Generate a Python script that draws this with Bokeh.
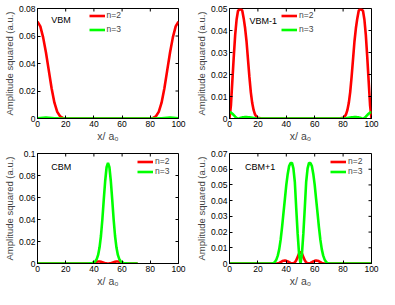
import math
from bokeh.plotting import figure
from bokeh.models import Range1d, FixedTicker, Legend, LegendItem, Label
from bokeh.layouts import gridplot
from bokeh.embed import file_html
from bokeh.resources import INLINE

# ---------------- data ----------------
x_ticks = [0, 20, 40, 60, 80, 100]
x_tick_labels = ["0", "20", "40", "60", "80", "100"]
series_names = ["n=2", "n=3"]

# VBM
vbm_x = [0, 2, 4, 6, 8, 10, 12, 14, 16, 18, 20, 30, 40, 50, 60, 70, 80,
         82, 84, 86, 88, 90, 92, 94, 96, 98, 100]
vbm_n2 = [0.0705, 0.067, 0.059, 0.048, 0.035, 0.022, 0.0115, 0.0048, 0.0016, 0.0004, 0.0001,
          0, 0, 0, 0, 0, 0.0001,
          0.0004, 0.0016, 0.0048, 0.0115, 0.022, 0.035, 0.048, 0.059, 0.067, 0.0705]
vbm_n3 = [0.0002, 0.0004, 0.0006, 0.0007, 0.0006, 0.0004, 0.0002, 0.0001, 0, 0, 0,
          0, 0, 0, 0, 0, 0,
          0, 0, 0.0001, 0.0002, 0.0004, 0.0006, 0.0007, 0.0006, 0.0004, 0.0002]
vbm_y_ticks = [0, 0.02, 0.04, 0.06, 0.08]
vbm_y_labels = ["0", "0.02", "0.04", "0.06", "0.08"]

# VBM-1
vbm1_x = [0, 1, 2, 3, 4, 5, 6, 7, 8, 9, 10, 11, 12, 13, 14, 15, 16, 17, 18, 19, 20,
          22, 24, 30, 40, 50, 60, 70, 76, 78,
          80, 81, 82, 83, 84, 85, 86, 87, 88, 89, 90, 91, 92, 93, 94, 95, 96, 97, 98, 99, 100]
vbm1_n2 = [0, 0.006, 0.017, 0.028, 0.038, 0.045, 0.049, 0.0495, 0.0497, 0.049, 0.0455,
           0.041, 0.035, 0.027, 0.019, 0.012, 0.007, 0.0038, 0.0018, 0.0008, 0.0003,
           0.0001, 0, 0, 0, 0, 0, 0, 0, 0.0001,
           0.0003, 0.0008, 0.0018, 0.0038, 0.007, 0.012, 0.019, 0.027, 0.035, 0.041,
           0.0455, 0.049, 0.0497, 0.0495, 0.049, 0.045, 0.038, 0.028, 0.017, 0.006, 0]
vbm1_n3 = [0.0028, 0.0027, 0.0022, 0.0015, 0.0008, 0.0002, 0, 0.0001, 0.0003, 0.0005, 0.0006,
           0.0007, 0.0007, 0.0006, 0.0005, 0.0004, 0.0003, 0.0002, 0.0001, 0, 0,
           0, 0, 0, 0, 0, 0, 0, 0, 0,
           0, 0, 0.0001, 0.0002, 0.0003, 0.0004, 0.0005, 0.0006, 0.0007, 0.0007,
           0.0006, 0.0005, 0.0003, 0.0001, 0, 0.0002, 0.0008, 0.0015, 0.0022, 0.0027, 0.0028]
vbm1_y_ticks = [0, 0.01, 0.02, 0.03, 0.04, 0.05]
vbm1_y_labels = ["0", "0.01", "0.02", "0.03", "0.04", "0.05"]

# CBM and CBM+1 share one sampling of x
cb_x = [0, 10, 20, 28, 29, 30, 31, 32, 33, 34, 35, 36, 37, 38, 39, 40, 41, 42, 43, 44, 45,
        46, 47, 48, 49, 50, 51, 52, 53, 54, 55, 56, 57, 58, 59, 60, 61, 62, 63, 64, 65,
        66, 67, 68, 69, 70, 71, 72, 80, 90, 100]

# CBM
cbm_n2 = [0, 0, 0, 0, 0, 0, 0, 0, 0, 0, 0, 0, 0, 0.0001, 0.0004, 0.0008, 0.0012, 0.0016, 0.0018, 0.0018, 0.0015,
          0.0011, 0.0007, 0.0003, 0.0001, 0, 0.0001, 0.0003, 0.0007, 0.0011, 0.0015, 0.0018, 0.0018, 0.0016, 0.0012, 0.0008, 0.0004,
          0.0001, 0, 0, 0, 0, 0, 0, 0, 0, 0]
cbm_n3 = [0, 0, 0, 0, 0, 0, 0, 0, 0, 0, 0, 0, 0.0001, 0.0002, 0.0005, 0.001, 0.002, 0.004, 0.0078, 0.0145, 0.025,
          0.040, 0.058, 0.075, 0.0875, 0.0915, 0.0875, 0.075, 0.058, 0.040, 0.025, 0.0145, 0.0078, 0.004, 0.002, 0.001, 0.0005,
          0.0002, 0.0001, 0, 0, 0, 0, 0, 0, 0, 0]
cbm_y_ticks = [0, 0.02, 0.04, 0.06, 0.08, 0.1]
cbm_y_labels = ["0", "0.02", "0.04", "0.06", "0.08", "0.1"]

# CBM+1
cbm1_n2 = [0, 0, 0, 0, 0, 0, 0, 0, 0, 0.0001, 0.0004, 0.0009, 0.0014, 0.0018, 0.0019, 0.0017, 0.0013, 0.0008, 0.0004, 0.0001, 0.0001,
           0.0007, 0.002, 0.0042, 0.0064, 0.0074, 0.0064, 0.0042, 0.002, 0.0007, 0.0001, 0.0001, 0.0004, 0.0008, 0.0013, 0.0017, 0.0019,
           0.0018, 0.0014, 0.0009, 0.0004, 0.0001, 0, 0, 0, 0, 0, 0, 0, 0, 0]
cbm1_n3 = [0, 0, 0, 0, 0, 0, 0.0003, 0.001, 0.0025, 0.005, 0.009, 0.015, 0.023, 0.032, 0.041, 0.050, 0.057, 0.062, 0.064, 0.064, 0.0605,
           0.052, 0.035, 0.019, 0.006, 0, 0.006, 0.019, 0.035, 0.052, 0.0605, 0.064, 0.064, 0.062, 0.057, 0.050, 0.041,
           0.032, 0.023, 0.015, 0.009, 0.005, 0.0025, 0.001, 0.0003, 0, 0, 0, 0, 0, 0]
cbm1_y_ticks = [0, 0.01, 0.02, 0.03, 0.04, 0.05, 0.06, 0.07]
cbm1_y_labels = ["0", "0.01", "0.02", "0.03", "0.04", "0.05", "0.06", "0.07"]

# ---------------- styling ----------------
FONT = "Liberation Sans"
RED = "#ff0000"
GREEN = "#00ff00"


def style_axis(ax, ticks, labels):
    ax.ticker = FixedTicker(ticks=ticks)
    ax.major_label_overrides = {t: l for t, l in zip(ticks, labels)}
    ax.major_tick_in = 3
    ax.major_tick_out = 0
    ax.minor_tick_line_color = None
    ax.axis_line_color = "black"
    ax.major_tick_line_color = "black"
    ax.major_label_text_font = FONT
    ax.major_label_text_color = "black"
    ax.major_label_text_font_size = "8.5px"
    ax.major_label_standoff = 2


def make_panel(x, n2, n3, yticks, ylabels, ymax, title, tx, ty, legend_loc,
               legend_margin, legend_spacing, width, height, borders):
    p = figure(width=width, height=height, output_backend="svg", toolbar_location=None,
               x_range=Range1d(0, 100), y_range=Range1d(0, ymax),
               min_border_left=borders[0], min_border_right=borders[1],
               min_border_top=borders[2], min_border_bottom=borders[3])
    p.grid.visible = False
    p.outline_line_color = "black"
    p.background_fill_color = "white"
    p.border_fill_color = "white"

    r2 = p.line(x, n2, line_color=RED, line_width=2.6)
    r3 = p.line(x, n3, line_color=GREEN, line_width=2.6)

    # inward ticks on the top and right sides of the box
    p.ray(x=x_ticks, y=[ymax] * len(x_ticks), length=3, length_units="screen",
          angle=-math.pi / 2, line_color="black", line_width=1)
    p.ray(x=[100] * len(yticks), y=yticks, length=3, length_units="screen",
          angle=math.pi, line_color="black", line_width=1)

    style_axis(p.xaxis[0], x_ticks, x_tick_labels)
    style_axis(p.yaxis[0], yticks, ylabels)
    p.xaxis[0].axis_label = "x/ a\u2080"
    p.xaxis[0].axis_label_text_font = FONT
    p.xaxis[0].axis_label_text_font_size = "10.5px"
    p.xaxis[0].axis_label_text_font_style = "normal"
    p.xaxis[0].axis_label_standoff = 0
    p.yaxis[0].axis_label = "Amplitude squared (a.u.)"
    p.yaxis[0].axis_label_text_font = FONT
    p.yaxis[0].axis_label_text_font_size = "9.5px"
    p.yaxis[0].axis_label_text_font_style = "normal"
    p.yaxis[0].axis_label_standoff = 1

    legend = Legend(items=[LegendItem(label=series_names[0], renderers=[r2]),
                           LegendItem(label=series_names[1], renderers=[r3])],
                    location=legend_loc, border_line_color=None,
                    background_fill_alpha=0, padding=0, margin=legend_margin,
                    spacing=legend_spacing, glyph_width=16, glyph_height=9,
                    label_height=9, label_standoff=2,
                    label_text_font=FONT, label_text_font_size="8.5px")
    p.add_layout(legend)

    p.add_layout(Label(x=tx, y=ty, text=title, text_font=FONT, text_font_size="9px",
                       text_align="left", text_baseline="middle", text_color="black"))
    return p


p1 = make_panel(vbm_x, vbm_n2, vbm_n3, vbm_y_ticks, vbm_y_labels, 0.08, "VBM",
                9.7, 0.0713, "top_center", 2, 4, 192, 144, (30, 14, 8, 24))
p2 = make_panel(vbm1_x, vbm1_n2, vbm1_n3, vbm1_y_ticks, vbm1_y_labels, 0.05, "VBM-1",
                14.1, 0.0445, "top_center", 2, 4, 187, 144, (30, 8, 8, 24))
p3 = make_panel(cb_x, cbm_n2, cbm_n3, cbm_y_ticks, cbm_y_labels, 0.1, "CBM",
                9.7, 0.0875, "top_right", 3, 0, 192, 145, (30, 14, 9, 24))
p4 = make_panel(cb_x, cbm1_n2, cbm1_n3, cbm1_y_ticks, cbm1_y_labels, 0.07, "CBM+1",
                10.9, 0.0613, "top_right", 3, 0, 187, 145, (30, 8, 9, 24))

grid = gridplot([[p1, p2], [p3, p4]], toolbar_location=None)

open("out.html", "w").write(file_html(grid, INLINE))
